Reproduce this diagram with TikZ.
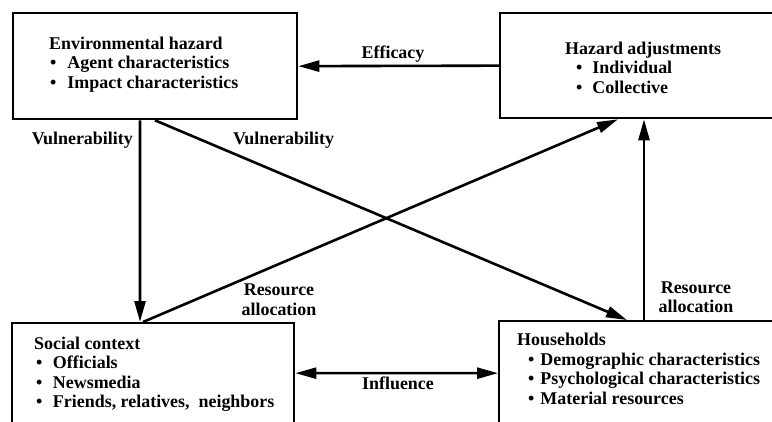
\documentclass[tikz,border=0pt]{standalone}
\usepackage{fontspec}
\setmainfont{Liberation Serif}
\usetikzlibrary{arrows.meta,positioning}

% bullet line: indent, gap, text
\newcommand{\itm}[3]{\hspace*{#1}\textbullet\hspace{#2}#3}

\tikzset{
  box/.style={draw, line width=2.3bp, anchor=north west, inner sep=0pt},
  boxtext/.style={anchor=west, align=left, inner sep=0pt,
    font=\bfseries\fontsize{18}{19.6}\selectfont},
  lbl/.style={inner sep=0pt, font=\bfseries\fontsize{18}{19.6}\selectfont},
  arr/.style={line width=2.6bp, -{Triangle[length=21bp,width=11bp]}},
  twoarr/.style={line width=2.6bp,
    {Triangle[length=21bp,width=11bp]}-{Triangle[length=21bp,width=11bp]}},
}

\begin{document}
\begin{tikzpicture}[x=1bp, y=-1bp]
  \useasboundingbox (0,0) rectangle (772,421);
  \clip (0,0) rectangle (772,421);

  % the four boxes
  \node[box, minimum width=284bp, minimum height=106bp] (haz) at (12,12) {};
  \node[box, minimum width=300bp, minimum height=105bp] (adj) at (499,12) {};
  \node[box, minimum width=282bp, minimum height=108bp] (soc) at (11,322) {};
  \node[box, minimum width=300bp, minimum height=110bp] (hh) at (498,320) {};

  \node[boxtext] (hazt) at (49,64.3) {Environmental hazard\\
    \itm{1bp}{11bp}{Agent characteristics}\\
    \itm{1bp}{11bp}{Impact characteristics}};
  \node[boxtext] (adjt) at (565,67.4) {Hazard adjustments\\
    \itm{11bp}{10bp}{Individual}\\
    \itm{11bp}{10bp}{Collective}};
  \node[boxtext] (soct) at (34,374.3) {Social context\\
    \itm{2bp}{10.5bp}{Officials}\\
    \itm{2bp}{10.5bp}{Newsmedia}\\
    \itm{2bp}{10.5bp}{Friends, relatives,\ \ neighbors}};
  \node[boxtext] (hht) at (517,368.9) {Households\\
    \itm{11bp}{6bp}{Demographic characteristics}\\
    \itm{11bp}{6bp}{Psychological characteristics}\\
    \itm{11bp}{6bp}{Material resources}};

  % connectors
  \draw[arr] (adj.west) -- (haz.east);
  \draw[arr] ([xshift=128bp]haz.south west) -- ([xshift=129bp]soc.north west);
  \draw[arr] ([xshift=143bp]haz.south west) -- ([xshift=129bp]hh.north west);
  \draw[arr] ([xshift=132bp]soc.north west) -- ([xshift=119bp]adj.south west);
  \draw[arr] ([xshift=146bp]hh.north west) -- ([xshift=145bp]adj.south west);
  \draw[twoarr] ([yshift=4bp]soc.east) -- ([yshift=3bp]hh.west);

  % labels
  \node[lbl, anchor=base] (eff) at (393,58) {Efficacy};
  \node[lbl, anchor=base east] (vul1) at (133,144) {Vulnerability};
  \node[lbl, anchor=base] (vul2) at (283.5,144) {Vulnerability};
  \node[lbl, align=center] (res1) at (279,299.5) {Resource\\allocation};
  \node[lbl, align=center] (res2) at (696,297) {Resource\\allocation};
  \node[lbl, anchor=base] (inf) at (398,389) {Influence};
\end{tikzpicture}
\end{document}
